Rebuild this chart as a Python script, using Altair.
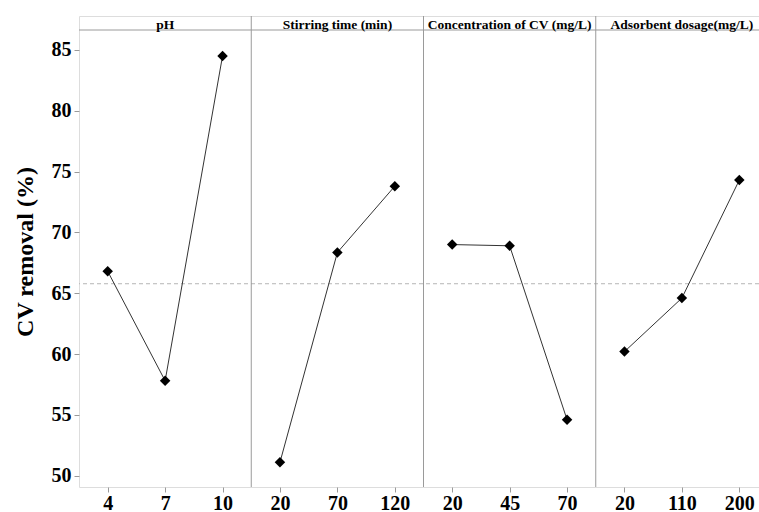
import altair as alt
import pandas as pd

factors = ["pH", "Stirring time (min)", "Concentration of CV (mg/L)", "Adsorbent dosage(mg/L)"]
levels = [["4", "7", "10"], ["20", "70", "120"], ["20", "45", "70"], ["20", "110", "200"]]
values = [[66.8, 57.8, 84.5], [51.1, 68.35, 73.8], [69.0, 68.9, 54.6], [60.2, 64.6, 74.3]]
grand_mean = 65.78
y_ticks = [50, 55, 60, 65, 70, 75, 80, 85]

FONT = "Liberation Serif"
GRID = "#9a9a9a"
W = 680
H = 471
HEAD = 14
ydom = [49.07, 87.79]
xdom = [-0.5, 11.343]

rows = []
for i, (f, lv, vals) in enumerate(zip(factors, levels, values)):
    for j, (l, v) in enumerate(zip(lv, vals)):
        rows.append({"factor": f, "level": l, "value": v, "pos": i * 3 + j})
df = pd.DataFrame(rows)
heads = pd.DataFrame({"factor": factors, "pos": [i * 3 + 1 for i in range(len(factors))]})
seps = pd.DataFrame({"pos": [i * 3 - 0.5 for i in range(1, len(factors))]})
mean_df = pd.DataFrame({"mean": [grand_mean]})

all_levels = [l for lv in levels for l in lv]
label_expr = "[" + ",".join("'%s'" % l for l in all_levels) + "][datum.value]"

xscale = alt.Scale(domain=xdom, nice=False, zero=False)
yscale = alt.Scale(domain=ydom, nice=False, zero=False)

x = alt.X("pos:Q", scale=xscale,
          axis=alt.Axis(title=None, values=list(range(len(all_levels))), labelExpr=label_expr,
                        labelAngle=0, labelFont=FONT, labelFontSize=20, labelFontWeight="bold",
                        labelColor="black", tickColor=GRID, tickSize=5, domain=False, grid=False,
                        labelPadding=1, labelFlush=False, labelOverlap=False))
y = alt.Y("value:Q", scale=yscale,
          axis=alt.Axis(title="CV removal (%)", values=y_ticks, grid=False, labelFont=FONT,
                        labelFontSize=20, labelFontWeight="bold", labelColor="black",
                        titleFont=FONT, titleFontSize=24, titleFontWeight="bold",
                        titleColor="black", tickColor=GRID, tickSize=5, domain=False,
                        titlePadding=14, labelPadding=3))

base = alt.Chart(df)
rule = alt.Chart(mean_df).mark_rule(color="#b5b5b5", strokeDash=[4, 3], strokeWidth=1).encode(
    y=alt.Y("mean:Q", scale=yscale)
)
sep = alt.Chart(seps).mark_rule(color=GRID, strokeWidth=1).encode(x=alt.X("pos:Q", scale=xscale))
head_line = alt.Chart(mean_df).mark_rule(color=GRID, strokeWidth=1).encode(y=alt.value(HEAD))
head_text = alt.Chart(heads).mark_text(
    font=FONT, fontSize=13.5, fontWeight="bold", color="black", baseline="middle", align="center"
).encode(text="factor:N", x=alt.X("pos:Q", scale=xscale), y=alt.value(9))
line = base.mark_line(color="#333333", strokeWidth=1).encode(x=x, y=y, detail="factor:N")
pts = base.mark_point(shape="diamond", filled=True, color="black", size=110, opacity=1).encode(x=x, y=y)

chart = alt.layer(rule, sep, head_line, line, pts, head_text).properties(
    width=W, height=H,
    autosize=alt.AutoSizeParams(type="none"),
    padding={"left": 79, "top": 16, "right": 0, "bottom": 25},
).configure_view(stroke=GRID, strokeWidth=1).configure(background="white")

chart.save("out.html", embed_options={"renderer": "svg", "actions": False})
